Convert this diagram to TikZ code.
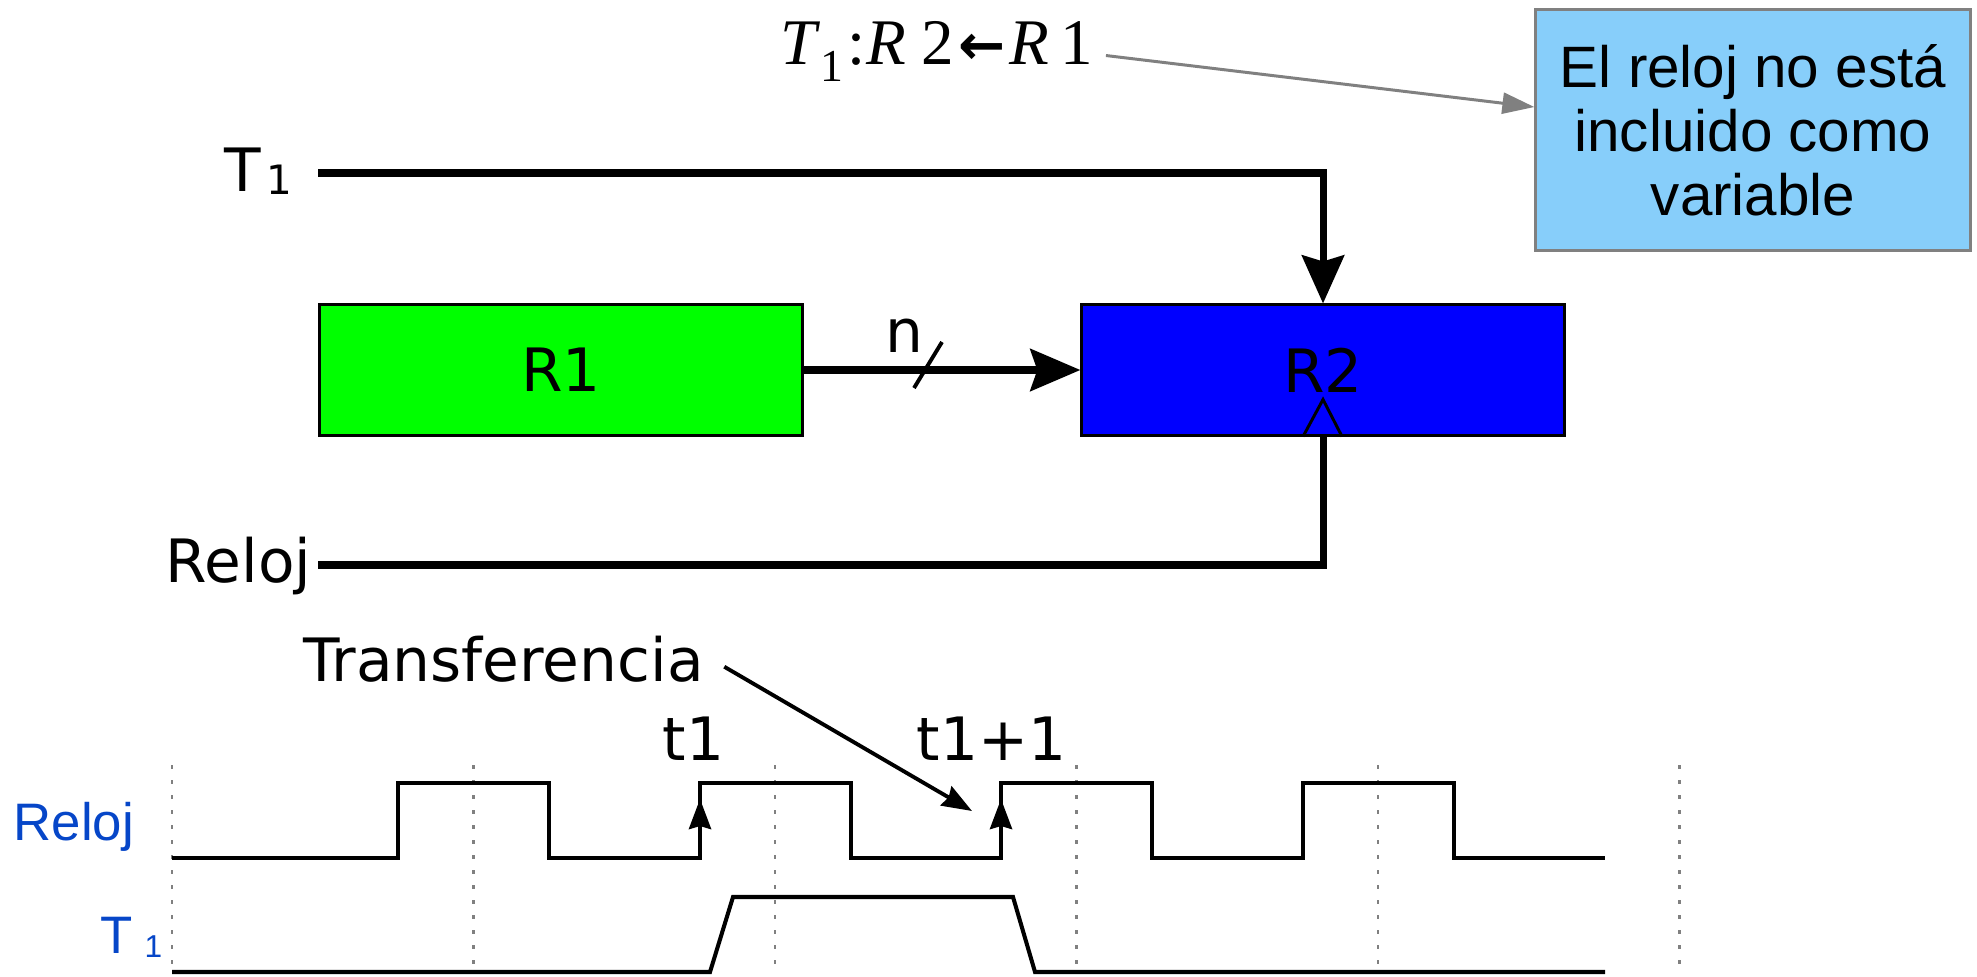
\documentclass[tikz,border=0pt]{standalone}
\usepackage{fontspec}
\setmainfont{DejaVu Sans}
\newfontfamily\libsans{Liberation Sans}
\newfontfamily\libserif{Liberation Serif}
\newfontfamily\djv{DejaVu Sans}
\usetikzlibrary{arrows.meta}
\definecolor{lblue}{RGB}{135,206,250}
\definecolor{tblue}{RGB}{6,70,200}
\definecolor{grn}{RGB}{0,255,0}
\definecolor{blu}{RGB}{0,0,255}
\begin{document}
\begin{tikzpicture}[x=0.01cm,y=-0.01cm,
 wire/.style={line width=2pt},
 reg/.style={draw=black, line width=0.85pt, minimum width=4.82cm, minimum height=1.30cm, inner sep=0, font=\djv\fontsize{17pt}{20pt}\selectfont},
 lbl/.style={inner sep=0, anchor=base west, font=\djv\fontsize{17pt}{20pt}\selectfont},
 wave/.style={line width=1.15pt, line join=miter},
 gridline/.style={gray, line width=0.6pt, dash pattern=on 0.04cm off 0.11cm},
 bigtip/.style={-{Stealth[length=0.48cm,width=0.42cm,inset=0.06cm]}},
 bigtipb/.style={-{Stealth[length=0.5cm,width=0.42cm,inset=0.07cm]}},
 smalltip/.style={-{Stealth[length=0.3cm,width=0.22cm,inset=0.03cm]}},
 fml/.style={inner sep=0, anchor=base west, font=\libserif\fontsize{18.5pt}{21pt}\selectfont},
 blbl/.style={inner sep=0, anchor=base west, text=tblue, font=\libsans\fontsize{15pt}{18pt}\selectfont}
]
\useasboundingbox (0,0) rectangle (1977,976);

% registers
\node[reg, fill=grn] (R1) at (561,370) {R1};
\node[reg, fill=blu] (R2) at (1323,370) {R2};

% note box
\node[draw=gray, line width=0.85pt, fill=lblue, minimum width=4.34cm, minimum height=2.40cm, inner sep=0, align=center, font=\libsans\fontsize{16.6pt}{18.2pt}\selectfont] (note) at (1753,130) {El reloj no está\\incluido como\\variable};

% formula
\node[fml] (f1) at (780,65) {\itshape T};
\node[fml, font=\libserif\fontsize{13pt}{15pt}\selectfont] (f2) at (820,82) {1};
\node[fml] (f3) at (847,65) {:};
\node[fml] (f4) at (866,65) {\itshape R};
\node[fml] (f5) at (921,65) {2};
\node[fml, font=\djv\bfseries\fontsize{16pt}{18pt}\selectfont] (f6) at (958,65) {←};
\node[fml] (f7) at (1009,65) {\itshape R};
\node[fml] (f8) at (1060,65) {1};
\draw[gray, line width=0.85pt, -{Triangle[length=0.32cm,width=0.21cm]}] ([xshift=0.12cm,yshift=-0.12cm]f8.east) -- (note.174);

% labels
\node[lbl] (lT) at (224,192) {T\hspace{0.05cm}\raisebox{-0.05em}{\fontsize{11.5pt}{13pt}\selectfont 1}};
\node[lbl] (lR) at (165,582) {Reloj};
\node[lbl] (ln) at (885,352) {n};
\node[lbl] (trans) at (303,681) {Transferencia};
\node[lbl] (lt1) at (662,760) {t1};
\node[lbl] (lt2) at (916,760) {t1+1};
\node[blbl] (bR) at (13,840) {Reloj};
\node[blbl] (bT) at (100,953) {T};
\node[blbl, font=\libsans\fontsize{9pt}{11pt}\selectfont] (b1) at (144,957) {1};

% wires
\coordinate (t1s) at (318,173);
\draw[wire, bigtip] (t1s) -| (R2.north);
\coordinate (rs) at (318,565);
\draw[wire] (rs) -| (R2.south);
\draw[wire, bigtipb] (R1.east) -- (R2.west);
\draw[line width=0.85pt] ([xshift=-0.2cm]R2.south) -- ([yshift=0.37cm]R2.south) -- ([xshift=0.19cm]R2.south);
\draw[line width=1.1pt] (914,388) -- (942,342);

% timing grid
\foreach \x in {172,473.5,775,1076.5,1378,1679.5} \draw[gridline] (\x,765) -- (\x,970);

% waveforms
\draw[wave] (172,858) -- (398,858) -- (398,783) -- (549,783) -- (549,858) -- (700,858) -- (700,783) -- (851,783) -- (851,858) -- (1001,858) -- (1001,783) -- (1152,783) -- (1152,858) -- (1303,858) -- (1303,783) -- (1454,783) -- (1454,858) -- (1605,858);
\draw[wave] (172,972) -- (710,972) -- (733,897) -- (1013,897) -- (1035,972) -- (1605,972);
\draw[wave, smalltip] (700,840) -- (700,799);
\draw[wave, smalltip] (1001,840) -- (1001,799);

\coordinate (tt) at (972,811);
\draw[line width=1.1pt, smalltip] ([xshift=0.2cm,yshift=-0.08cm]trans.east) -- (tt);
\end{tikzpicture}
\end{document}
